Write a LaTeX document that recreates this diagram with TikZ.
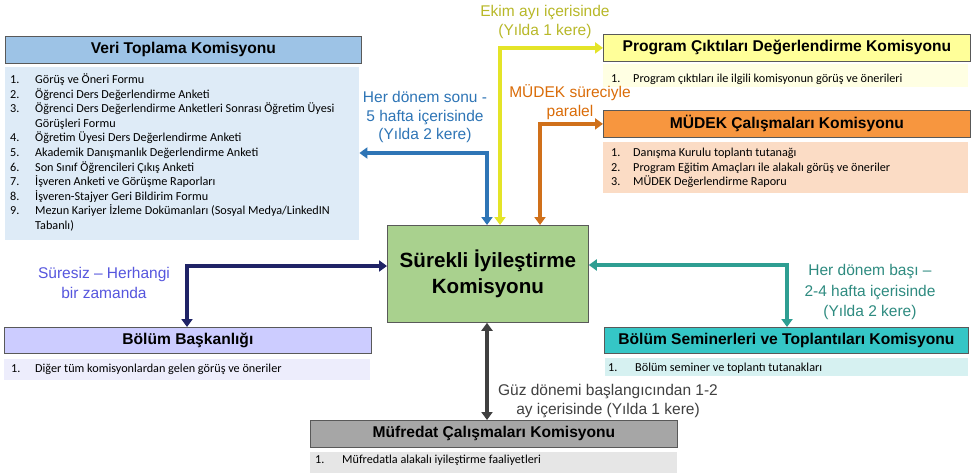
\documentclass[tikz,border=0pt]{standalone}
\usepackage{fontspec}
\setmainfont{Liberation Sans}
\newfontfamily\itemfont{Carlito}
\usetikzlibrary{arrows.meta}
\definecolor{bordergray}{HTML}{595959}
\definecolor{vhfill}{HTML}{9DC3E6}
\definecolor{vbfill}{HTML}{DEEBF7}
\definecolor{cenfill}{HTML}{A9D18E}
\definecolor{phfill}{HTML}{FFFF99}
\definecolor{pbfill}{HTML}{FFFFE3}
\definecolor{mhfill}{HTML}{F7963F}
\definecolor{mbfill}{HTML}{FBDCC5}
\definecolor{bhfill}{HTML}{CCCCFF}
\definecolor{bbfill}{HTML}{EDEDFC}
\definecolor{shfill}{HTML}{35C6C6}
\definecolor{sbfill}{HTML}{D6F1F1}
\definecolor{fhfill}{HTML}{A6A6A6}
\definecolor{fbfill}{HTML}{E6E6E6}
\definecolor{cblue}{HTML}{2E75B6}
\definecolor{cyellow}{HTML}{E4E428}
\definecolor{tyellow}{HTML}{B8B828}
\definecolor{corange}{HTML}{D0701A}
\definecolor{torange}{HTML}{DA6C08}
\definecolor{cnavy}{HTML}{1F2366}
\definecolor{tviolet}{HTML}{5656DE}
\definecolor{cteal}{HTML}{2E9E92}
\definecolor{tteal}{HTML}{2E8B80}
\definecolor{cgray}{HTML}{404040}
\tikzset{
  hdr/.style={draw=bordergray, line width=0.8pt, anchor=north west, inner sep=0pt,
    font=\bfseries\fontsize{15.6}{18}\selectfont},
  bodybox/.style={anchor=north west, inner sep=0pt, draw=none},
  lst/.style={anchor=north west, inner sep=0pt, align=left,
    font=\itemfont\fontsize{12.2}{14.6}\selectfont},
  lbl/.style={align=center, inner sep=0pt, font=\fontsize{15.5}{18.5}\selectfont},
  conn/.style={line width=3.5pt, {Triangle[width=11pt,length=8pt]}-{Triangle[width=11pt,length=8pt]}}
}
\begin{document}
\begin{tikzpicture}[x=1pt,y=-1pt]
\useasboundingbox[fill=white] (0,0) rectangle (974,476);

% Veri Toplama
\node[hdr, fill=vhfill, minimum width=356pt, minimum height=27pt] (vh) at (5,36) {Veri Toplama Komisyonu};
\node[bodybox, fill=vbfill, minimum width=354pt, minimum height=173pt] (vb) at (5,67) {};
\node[lst] (vl) at (10,73) {\begin{tabular}{@{}p{25pt}@{}l@{}}
1. & Görüş ve Öneri Formu\\
2. & Öğrenci Ders Değerlendirme Anketi\\
3. & Öğrenci Ders Değerlendirme Anketleri Sonrası Öğretim Üyesi\\
   & Görüşleri Formu\\
4. & Öğretim Üyesi Ders Değerlendirme Anketi\\
5. & Akademik Danışmanlık Değerlendirme Anketi\\
6. & Son Sınıf Öğrencileri Çıkış Anketi\\
7. & İşveren Anketi ve Görüşme Raporları\\
8. & İşveren-Stajyer Geri Bildirim Formu\\
9. & Mezun Kariyer İzleme Dokümanları (Sosyal Medya/LinkedIN\\
   & Tabanlı)
\end{tabular}};

% Program Ciktilari
\node[hdr, fill=phfill, minimum width=367pt, minimum height=27pt] (ph) at (603,34) {Program Çıktıları Değerlendirme Komisyonu};
\node[bodybox, fill=pbfill, minimum width=365pt, minimum height=23pt] (pb) at (603,64) {};
\node[lst] (pl) at (611,72) {\begin{tabular}{@{}p{22pt}@{}l@{}}
1. & Program çıktıları ile ilgili komisyonun görüş ve önerileri
\end{tabular}};

% MUDEK
\node[hdr, fill=mhfill, minimum width=367pt, minimum height=27pt] (mh) at (603,110) {MÜDEK Çalışmaları Komisyonu};
\node[bodybox, fill=mbfill, minimum width=365pt, minimum height=51pt] (mb) at (603,142) {};
\node[lst] (ml) at (611,146) {\begin{tabular}{@{}p{22pt}@{}l@{}}
1. & Danışma Kurulu toplantı tutanağı\\
2. & Program Eğitim Amaçları ile alakalı görüş ve öneriler\\
3. & MÜDEK Değerlendirme Raporu
\end{tabular}};

% Central
\node[draw=bordergray, line width=0.8pt, fill=cenfill, minimum width=201pt, minimum height=97pt,
  anchor=north west, inner sep=0pt, align=center,
  font=\bfseries\fontsize{20.6}{26}\selectfont] (cen) at (387,225) {Sürekli İyileştirme\\Komisyonu};

% Bolum Baskanligi
\node[hdr, fill=bhfill, minimum width=367pt, minimum height=26pt] (bh) at (4,327) {Bölüm Başkanlığı};
\node[bodybox, fill=bbfill, minimum width=366pt, minimum height=21pt] (bb) at (4,359) {};
\node[lst] (bl) at (11,362) {\begin{tabular}{@{}p{24pt}@{}l@{}}
1. & Diğer tüm komisyonlardan gelen görüş ve öneriler
\end{tabular}};

% Seminerler
\node[hdr, fill=shfill, minimum width=364pt, minimum height=26pt] (sh) at (604,327) {Bölüm Seminerleri ve Toplantıları Komisyonu};
\node[bodybox, fill=sbfill, minimum width=363pt, minimum height=18pt] (sb) at (605,358) {};
\node[lst] (sl) at (608,361) {\begin{tabular}{@{}p{27pt}@{}l@{}}
1. & Bölüm seminer ve toplantı tutanakları
\end{tabular}};

% Mufredat
\node[hdr, fill=fhfill, minimum width=367pt, minimum height=27pt] (fh) at (310,420) {Müfredat Çalışmaları Komisyonu};
\node[bodybox, fill=fbfill, minimum width=367pt, minimum height=21pt] (fb) at (310,452) {};
\node[lst] (fl) at (315,453) {\begin{tabular}{@{}p{27pt}@{}l@{}}
1. & Müfredatla alakalı iyileştirme faaliyetleri
\end{tabular}};

% connectors
\draw[conn, cblue] (cen.north -| 487,0) |- (vb.east |- 0,153);
\draw[conn, cyellow] (cen.north -| 500,0) |- (ph.west);
\draw[conn, corange] (cen.north -| 540,0) |- (mh.west);
\draw[conn, cnavy] (cen.west |- 0,266) -| (bh.north -| 187,0);
\draw[conn, cteal] (cen.east |- 0,265) -| (sh.north -| 787,0);
\draw[conn, cgray] (cen.south -| 487,0) -- (fh.north -| 487,0);

% labels
\node[lbl, text=cblue] (lblue) at (425,117) {Her dönem sonu -\\5 hafta içerisinde\\(Yılda 2 kere)};
\node[lbl, text=tyellow] (lyellow) at (545,22) {Ekim ayı içerisinde\\(Yılda 1 kere)};
\node[lbl, text=torange] (lorange) at (570,102) {MÜDEK süreciyle\\paralel};
\node[lbl, text=tviolet, font=\fontsize{15.5}{20}\selectfont] (lnavy) at (104,283) {Süresiz – Herhangi\\bir zamanda};
\node[lbl, text=tteal, font=\fontsize{15.5}{20.5}\selectfont] (lteal) at (870,292) {Her dönem başı –\\2-4 hafta içerisinde\\(Yılda 2 kere)};
\node[lbl, text=cgray, font=\fontsize{15.5}{19}\selectfont] (lgray) at (608,401) {Güz dönemi başlangıcından 1-2\\ay içerisinde (Yılda 1 kere)};
\end{tikzpicture}
\end{document}
